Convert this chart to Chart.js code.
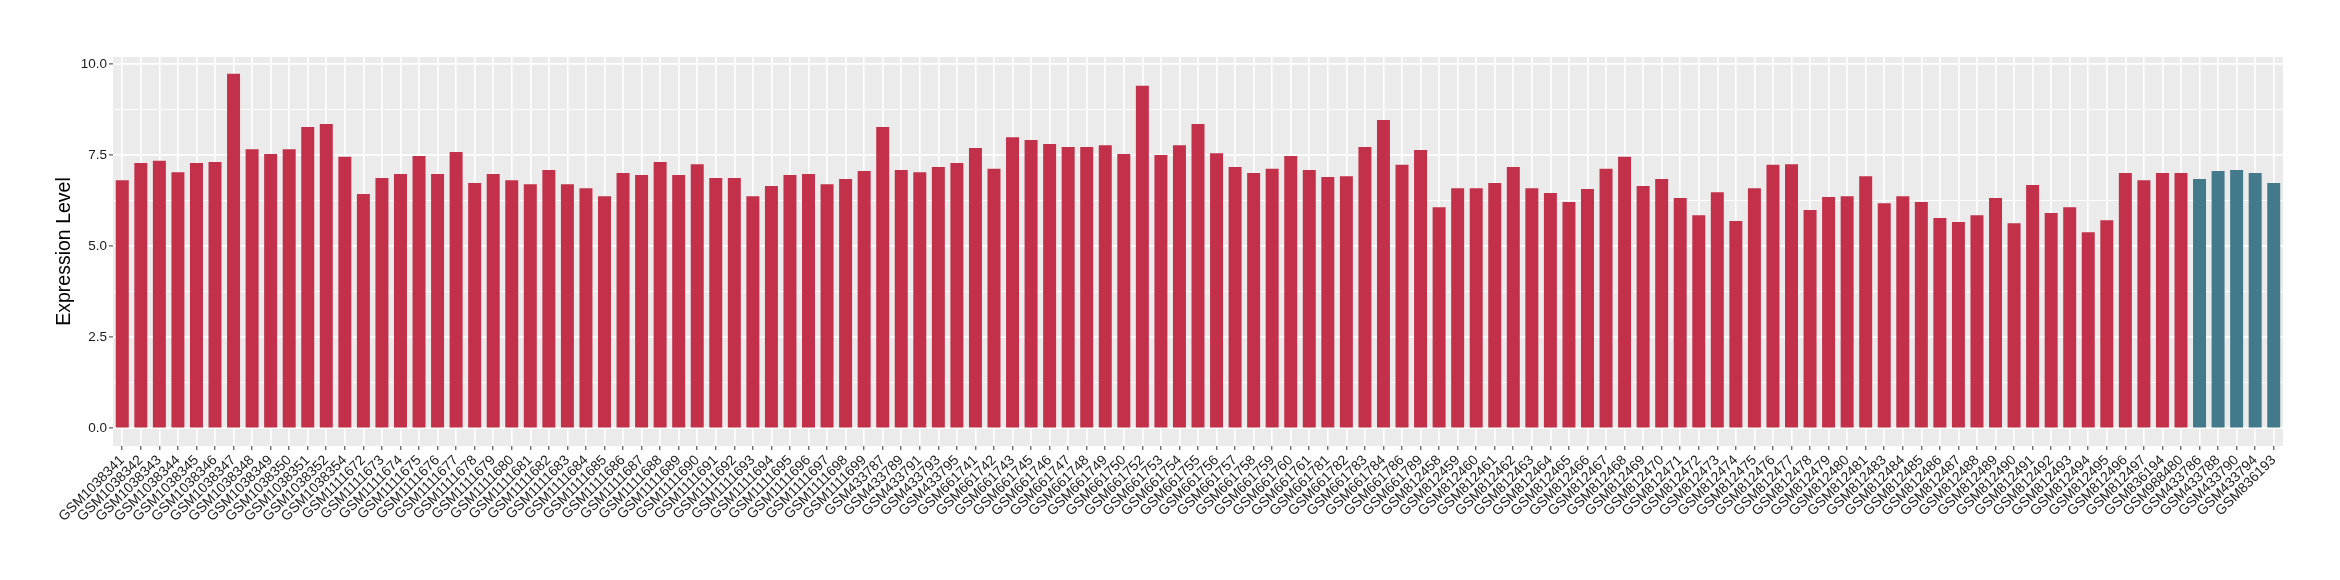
<!DOCTYPE html>
<html>
<head>
<meta charset="utf-8">
<script src="https://cdn.jsdelivr.net/npm/chart.js@4.4.1/dist/chart.umd.min.js"></script>
<style>
  html, body { margin: 0; padding: 0; background: #ffffff; }
  #wrap { width: 2340px; height: 580px; position: relative; }
</style>
</head>
<body>
<div id="wrap"><canvas id="c" width="2340" height="580"></canvas></div>
<script>
// ---------- DATA ----------
const labelsCase = [
  'GSM1038341','GSM1038342','GSM1038343','GSM1038344','GSM1038345','GSM1038346','GSM1038347',
  'GSM1038348','GSM1038349','GSM1038350','GSM1038351','GSM1038352','GSM1038354',
  'GSM1111672','GSM1111673','GSM1111674','GSM1111675','GSM1111676','GSM1111677','GSM1111678',
  'GSM1111679','GSM1111680','GSM1111681','GSM1111682','GSM1111683','GSM1111684','GSM1111685',
  'GSM1111686','GSM1111687','GSM1111688','GSM1111689','GSM1111690','GSM1111691','GSM1111692',
  'GSM1111693','GSM1111694','GSM1111695','GSM1111696','GSM1111697','GSM1111698','GSM1111699',
  'GSM433787','GSM433789','GSM433791','GSM433793','GSM433795',
  'GSM661741','GSM661742','GSM661743','GSM661745','GSM661746','GSM661747','GSM661748',
  'GSM661749','GSM661750','GSM661752','GSM661753','GSM661754','GSM661755','GSM661756',
  'GSM661757','GSM661758','GSM661759','GSM661760','GSM661761','GSM661781','GSM661782',
  'GSM661783','GSM661784','GSM661786','GSM661789',
  'GSM812458','GSM812459','GSM812460','GSM812461','GSM812462','GSM812463','GSM812464',
  'GSM812465','GSM812466','GSM812467','GSM812468','GSM812469','GSM812470','GSM812471',
  'GSM812472','GSM812473','GSM812474','GSM812475','GSM812476','GSM812477','GSM812478',
  'GSM812479','GSM812480','GSM812481','GSM812483','GSM812484','GSM812485','GSM812486',
  'GSM812487','GSM812488','GSM812489','GSM812490','GSM812491','GSM812492','GSM812493',
  'GSM812494','GSM812495','GSM812496','GSM812497',
  'GSM836194','GSM988480'
];
const valuesCase = [
  6.81, 7.28, 7.34, 7.03, 7.28, 7.31, 9.73, 7.66, 7.53, 7.66, 8.27, 8.35, 7.45,
  6.43, 6.87, 6.98, 7.47, 6.98, 7.58, 6.73, 6.98, 6.81, 6.70, 7.09, 6.70, 6.59, 6.37,
  7.01, 6.95, 7.31, 6.95, 7.25, 6.87, 6.87, 6.37, 6.65, 6.95, 6.98, 6.70, 6.84, 7.06,
  8.27, 7.09, 7.03, 7.17, 7.28,
  7.69, 7.12, 7.99, 7.91, 7.80, 7.72, 7.72, 7.77, 7.53, 9.40, 7.50, 7.77, 8.35, 7.55,
  7.17, 7.01, 7.12, 7.47, 7.09, 6.90, 6.92, 7.72, 8.46, 7.23, 7.64,
  6.07, 6.59, 6.59, 6.73, 7.17, 6.59, 6.46, 6.21, 6.57, 7.12, 7.45, 6.65, 6.84, 6.32,
  5.85, 6.48, 5.69, 6.59, 7.23, 7.25, 5.99, 6.35, 6.37, 6.92,
  6.18, 6.37, 6.21, 5.77, 5.66, 5.85, 6.32, 5.63, 6.68, 5.91, 6.07, 5.38, 5.71, 7.01, 6.81,
  7.01, 7.01
];
const labelsControl = ['GSM433786','GSM433788','GSM433790','GSM433794','GSM836193'];
const valuesControl = [6.84, 7.06, 7.09, 7.01, 6.73];

const yMajorTicks = [0, 2.5, 5, 7.5, 10];
const yMinorTicks = [1.25, 3.75, 6.25, 8.75];
const yTitle = 'Expression Level';

// ---------- STYLE ----------
const COLOR_CASE = '#C2304A';
const COLOR_CONTROL = '#437A8B';

const allLabels = labelsCase.concat(labelsControl);
const allValues = valuesCase.concat(valuesControl);
const nCase = labelsCase.length;

const panelBg = {
  id: 'panelBg',
  beforeDraw(chart) {
    const { ctx, chartArea: a } = chart;
    ctx.save();
    ctx.fillStyle = '#EBEBEB';
    ctx.fillRect(a.left, a.top, a.right - a.left, a.bottom - a.top);
    ctx.restore();
  }
};

const isMajor = v => yMajorTicks.some(m => Math.abs(m - v) < 1e-9);

new Chart(document.getElementById('c'), {
  type: 'bar',
  data: {
    labels: allLabels,
    datasets: [{
      data: allValues,
      backgroundColor: ctx => ctx.dataIndex < nCase ? COLOR_CASE : COLOR_CONTROL,
      borderWidth: 0,
      barPercentage: 0.7,
      categoryPercentage: 1.0
    }]
  },
  options: {
    responsive: false,
    animation: false,
    devicePixelRatio: 1,
    layout: { padding: { left: 0, top: 57, right: 57, bottom: 0 } },
    plugins: { legend: { display: false }, tooltip: { enabled: false } },
    scales: {
      x: {
        type: 'category',
        offset: true,
        border: { display: false },
        grid: {
          offset: false,
          color: '#FFFFFF',
          lineWidth: 1.6,
          drawTicks: true,
          tickLength: 4,
          tickColor: '#333333',
          tickWidth: 1
        },
        ticks: {
          autoSkip: false,
          minRotation: 45,
          maxRotation: 45,
          padding: 2,
          color: '#1A1A1A',
          font: { family: '"Liberation Sans", Arial, Helvetica, sans-serif', size: 14 }
        },
        afterFit(scale) { scale.height = 134; }
      },
      y: {
        type: 'linear',
        min: -0.485,
        max: 10.19,
        border: { display: false },
        afterBuildTicks(scale) {
          scale.ticks = yMajorTicks.concat(yMinorTicks).sort((a, b) => a - b).map(v => ({ value: v }));
        },
        grid: {
          color: '#FFFFFF',
          lineWidth: ctx => (ctx.tick && isMajor(ctx.tick.value)) ? 1.8 : 0.9,
          drawTicks: true,
          tickLength: 4,
          tickWidth: 1,
          tickColor: ctx => (ctx.tick && isMajor(ctx.tick.value)) ? '#333333' : 'rgba(0,0,0,0)'
        },
        ticks: {
          padding: 2,
          color: '#1A1A1A',
          font: { family: '"Liberation Sans", Arial, Helvetica, sans-serif', size: 13.5 },
          callback: v => isMajor(v) ? Number(v).toFixed(1) : ''
        },
        title: {
          display: true,
          text: yTitle,
          color: '#000000',
          font: { family: '"Liberation Sans", Arial, Helvetica, sans-serif', size: 19.5 },
          padding: { top: 53, bottom: 0 }
        },
        afterFit(scale) { scale.width = 113; }
      }
    }
  },
  plugins: [panelBg]
});
</script>
</body>
</html>
